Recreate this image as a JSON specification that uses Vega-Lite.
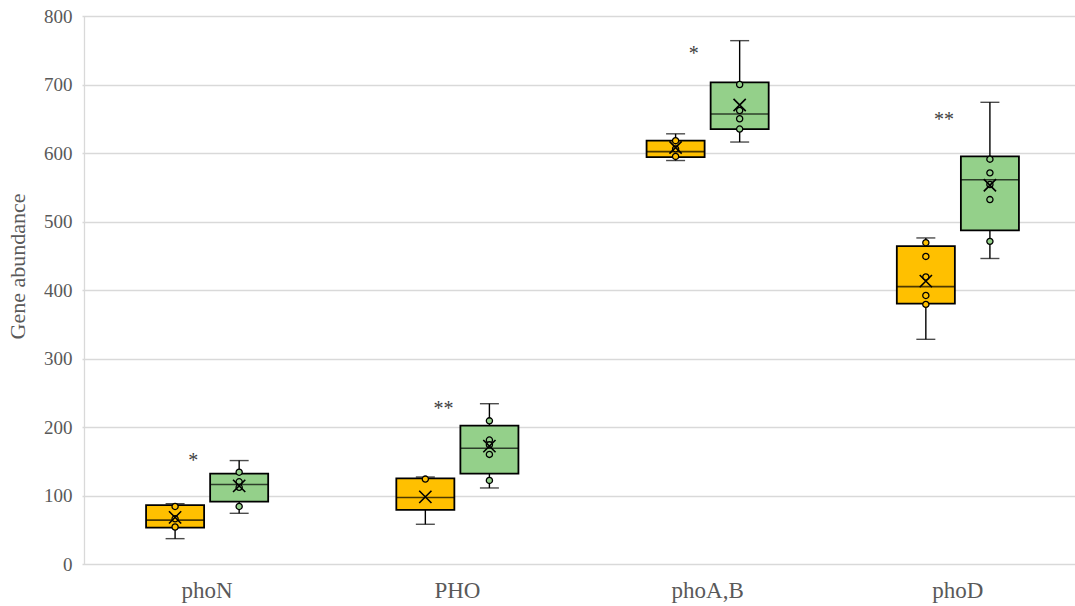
{
  "$schema": "https://vega.github.io/schema/vega-lite/v6.json",
  "width": 991,
  "height": 548,
  "autosize": "none",
  "padding": {"left": 84, "top": 16, "right": 0, "bottom": 42},
  "background": "white",
  "config": {
    "view": {"stroke": null},
    "font": "Liberation Serif"
  },
  "datasets": {
    "stats": [
      {"gene": "phoN", "group": "G1", "wlo": 37, "q1": 53, "med": 64, "q3": 86, "whi": 88, "mean": 68},
      {"gene": "phoN", "group": "G2", "wlo": 74, "q1": 91, "med": 116, "q3": 132, "whi": 151, "mean": 114},
      {"gene": "PHO", "group": "G1", "wlo": 58, "q1": 79, "med": 97, "q3": 125, "whi": 127, "mean": 98},
      {"gene": "PHO", "group": "G2", "wlo": 111, "q1": 132, "med": 169, "q3": 202, "whi": 234, "mean": 172},
      {"gene": "phoA,B", "group": "G1", "wlo": 589, "q1": 594, "med": 602, "q3": 618, "whi": 628, "mean": 608},
      {"gene": "phoA,B", "group": "G2", "wlo": 616, "q1": 635, "med": 657, "q3": 703, "whi": 764, "mean": 670},
      {"gene": "phoD", "group": "G1", "wlo": 328, "q1": 380, "med": 405, "q3": 464, "whi": 476, "mean": 413},
      {"gene": "phoD", "group": "G2", "wlo": 446, "q1": 487, "med": 561, "q3": 595, "whi": 674, "mean": 553}
    ],
    "pts": [
      {"gene": "phoN", "group": "G1", "v": 84},
      {"gene": "phoN", "group": "G1", "v": 66},
      {"gene": "phoN", "group": "G1", "v": 54},
      {"gene": "phoN", "group": "G2", "v": 134},
      {"gene": "phoN", "group": "G2", "v": 120},
      {"gene": "phoN", "group": "G2", "v": 112},
      {"gene": "phoN", "group": "G2", "v": 84},
      {"gene": "PHO", "group": "G1", "v": 124},
      {"gene": "PHO", "group": "G2", "v": 209},
      {"gene": "PHO", "group": "G2", "v": 181},
      {"gene": "PHO", "group": "G2", "v": 174},
      {"gene": "PHO", "group": "G2", "v": 160},
      {"gene": "PHO", "group": "G2", "v": 122},
      {"gene": "phoA,B", "group": "G1", "v": 618},
      {"gene": "phoA,B", "group": "G1", "v": 606},
      {"gene": "phoA,B", "group": "G1", "v": 595},
      {"gene": "phoA,B", "group": "G2", "v": 700},
      {"gene": "phoA,B", "group": "G2", "v": 662},
      {"gene": "phoA,B", "group": "G2", "v": 650},
      {"gene": "phoA,B", "group": "G2", "v": 635},
      {"gene": "phoD", "group": "G1", "v": 469},
      {"gene": "phoD", "group": "G1", "v": 449},
      {"gene": "phoD", "group": "G1", "v": 419},
      {"gene": "phoD", "group": "G1", "v": 392},
      {"gene": "phoD", "group": "G1", "v": 379},
      {"gene": "phoD", "group": "G2", "v": 591},
      {"gene": "phoD", "group": "G2", "v": 571},
      {"gene": "phoD", "group": "G2", "v": 554},
      {"gene": "phoD", "group": "G2", "v": 532},
      {"gene": "phoD", "group": "G2", "v": 471}
    ],
    "stars": [
      {"gene": "phoN", "label": "*", "y": 150},
      {"gene": "PHO", "label": "**", "y": 227},
      {"gene": "phoA,B", "label": "*", "y": 745},
      {"gene": "phoD", "label": "**", "y": 648}
    ]
  },
  "encoding": {
    "x": {
      "field": "gene",
      "type": "nominal",
      "sort": ["phoN", "PHO", "phoA,B", "phoD"],
      "scale": {"range": [-2, 999], "paddingInner": 0, "paddingOuter": 0},
      "axis": {
        "title": null,
        "domain": false,
        "ticks": false,
        "labelAngle": 0,
        "labelFont": "Liberation Serif",
        "labelFontSize": 23,
        "labelColor": "#595959",
        "labelPadding": 15,
        "grid": false
      }
    }
  },
  "layer": [
    {
      "data": {"name": "stats"},
      "mark": {"type": "bar", "stroke": "black", "strokeWidth": 1.8},
      "encoding": {
        "xOffset": {"field": "group", "type": "nominal", "scale": {"paddingInner": 0.094, "paddingOuter": 1.0}},
        "y": {
          "field": "q1",
          "type": "quantitative",
          "scale": {"domain": [0, 800], "nice": false},
          "axis": {
            "title": "Gene abundance",
            "titleFont": "Liberation Serif",
            "titleFontSize": 22,
            "titleFontWeight": "normal",
            "titleColor": "#595959",
            "titlePadding": 14,
            "titleY": 250,
            "values": [0, 100, 200, 300, 400, 500, 600, 700, 800],
            "labelFont": "Liberation Serif",
            "labelFontSize": 19,
            "labelColor": "#595959",
            "labelPadding": 12,
            "ticks": false,
            "domainColor": "#D9D9D9",
            "domainWidth": 1.3,
            "gridColor": "#D9D9D9",
            "gridWidth": 1.3
          }
        },
        "y2": {"field": "q3"},
        "color": {
          "field": "group",
          "type": "nominal",
          "scale": {"domain": ["G1", "G2"], "range": ["#FFC000", "#94D08A"]},
          "legend": null
        }
      }
    },
    {
      "data": {"name": "stats"},
      "mark": {"type": "rule", "color": "black", "strokeWidth": 1.4},
      "encoding": {
        "xOffset": {"field": "group", "type": "nominal", "scale": {"paddingInner": 0.094, "paddingOuter": 1.0}},
        "y": {"field": "whi", "type": "quantitative"},
        "y2": {"field": "q3"}
      }
    },
    {
      "data": {"name": "stats"},
      "mark": {"type": "rule", "color": "black", "strokeWidth": 1.4},
      "encoding": {
        "xOffset": {"field": "group", "type": "nominal", "scale": {"paddingInner": 0.094, "paddingOuter": 1.0}},
        "y": {"field": "q1", "type": "quantitative"},
        "y2": {"field": "wlo"}
      }
    },
    {
      "data": {"name": "stats"},
      "mark": {"type": "tick", "color": "black", "thickness": 1.4, "size": 19, "orient": "horizontal"},
      "encoding": {
        "xOffset": {"field": "group", "type": "nominal", "scale": {"paddingInner": 0.094, "paddingOuter": 1.0}},
        "y": {"field": "whi", "type": "quantitative"}
      }
    },
    {
      "data": {"name": "stats"},
      "mark": {"type": "tick", "color": "black", "thickness": 1.4, "size": 19, "orient": "horizontal"},
      "encoding": {
        "xOffset": {"field": "group", "type": "nominal", "scale": {"paddingInner": 0.094, "paddingOuter": 1.0}},
        "y": {"field": "wlo", "type": "quantitative"}
      }
    },
    {
      "data": {"name": "stats"},
      "mark": {"type": "tick", "color": "black", "thickness": 1.6, "size": 58, "orient": "horizontal"},
      "encoding": {
        "xOffset": {"field": "group", "type": "nominal", "scale": {"paddingInner": 0.094, "paddingOuter": 1.0}},
        "y": {"field": "med", "type": "quantitative"}
      }
    },
    {
      "data": {"name": "pts"},
      "mark": {"type": "point", "shape": "circle", "size": 38, "filled": false, "stroke": "black", "strokeWidth": 1.3, "opacity": 1},
      "encoding": {
        "xOffset": {"field": "group", "type": "nominal", "scale": {"paddingInner": 0.094, "paddingOuter": 1.0}},
        "y": {"field": "v", "type": "quantitative"},
        "fill": {
          "field": "group",
          "type": "nominal",
          "scale": {"domain": ["G1", "G2"], "range": ["#FFC000", "#94D08A"]},
          "legend": null
        }
      }
    },
    {
      "data": {"name": "stats"},
      "mark": {"type": "point", "shape": "M-1,-1L1,1M1,-1L-1,1", "size": 150, "filled": false, "stroke": "black", "strokeWidth": 1.6, "opacity": 1},
      "encoding": {
        "xOffset": {"field": "group", "type": "nominal", "scale": {"paddingInner": 0.094, "paddingOuter": 1.0}},
        "y": {"field": "mean", "type": "quantitative"}
      }
    },
    {
      "data": {"name": "stars"},
      "mark": {"type": "text", "fontSize": 20, "color": "#404040", "dx": -14, "baseline": "middle", "font": "Liberation Serif"},
      "encoding": {
        "y": {"field": "y", "type": "quantitative"},
        "text": {"field": "label"}
      }
    }
  ]
}
